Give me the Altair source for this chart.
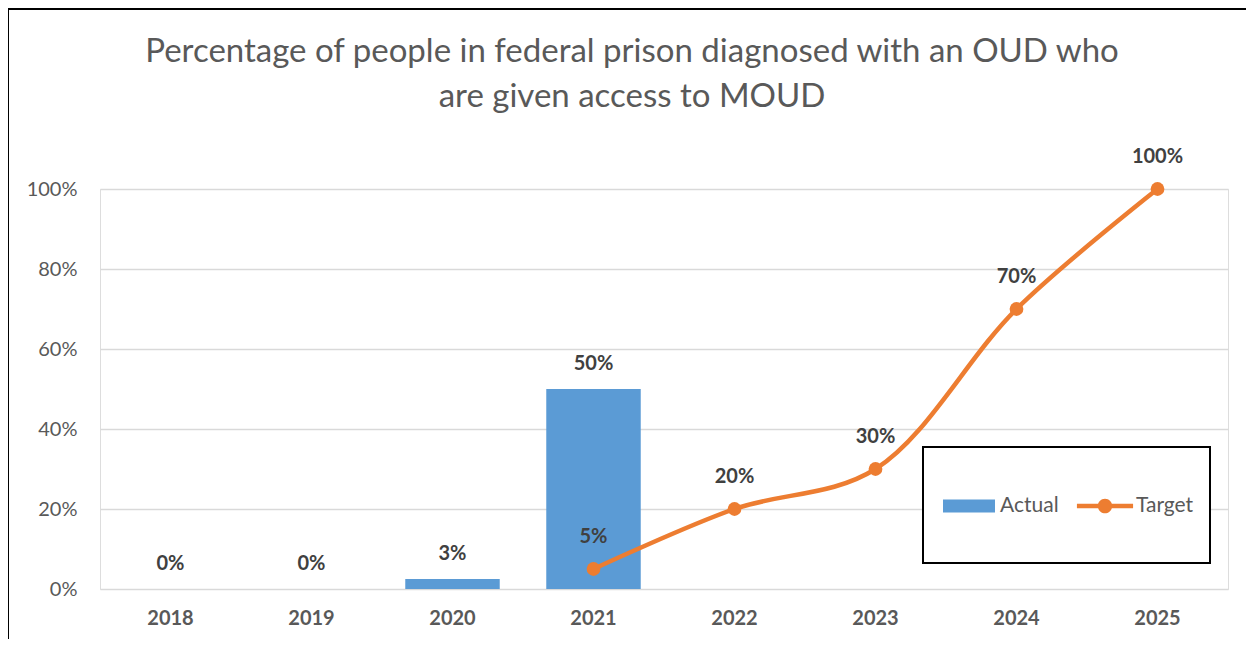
import altair as alt
import pandas as pd

# ---------------- data ----------------
years = ["2018", "2019", "2020", "2021", "2022", "2023", "2024", "2025"]
actual_years = ["2018", "2019", "2020", "2021"]
actual_values = [0.0, 0.0, 0.025, 0.50]
target_years = ["2021", "2022", "2023", "2024", "2025"]
target_values = [0.05, 0.20, 0.30, 0.70, 1.00]
y_ticks = [0, 0.2, 0.4, 0.6, 0.8, 1.0]
series_names = ["Actual", "Target"]
title_lines = [
    "Percentage of people in federal prison diagnosed with an OUD who",
    "are given access to MOUD",
]

# ---------------- style ----------------
BLUE = "#5B9BD5"
ORANGE = "#ED7D31"
GRAY = "#595959"
DARK = "#404040"
FONT = "Lato"

actual_df = pd.DataFrame({"year": actual_years, "value": actual_values})
target_df = pd.DataFrame({"year": target_years, "value": target_values})
legend_df = pd.DataFrame({"series": series_names})
one = pd.DataFrame({"k": [0]})

x = alt.X(
    "year:N",
    sort=years,
    scale=alt.Scale(domain=years, paddingInner=0.33, paddingOuter=0.165),
    axis=alt.Axis(
        title=None, labelAngle=0, labelFont=FONT, labelFontSize=20,
        labelFontWeight="bold", labelColor=GRAY, labelPadding=19,
        domain=False, ticks=False, grid=False,
    ),
)
y = alt.Y(
    "value:Q",
    scale=alt.Scale(domain=[0, 1], nice=False, zero=True),
    axis=alt.Axis(
        title=None, format=".0%", values=y_ticks, labelFont=FONT,
        labelFontSize=20, labelColor=GRAY, labelPadding=23,
        domain=False, ticks=False, gridColor="#D9D9D9", gridWidth=1.3,
    ),
)

bars = alt.Chart(actual_df).mark_bar(color=BLUE).encode(x=x, y=y)
bar_labels = alt.Chart(actual_df).mark_text(
    dy=-25, baseline="middle", font=FONT, fontSize=20, fontWeight="bold", color=DARK
).encode(x=x, y=y, text=alt.Text("value:Q", format=".0%"))

line = alt.Chart(target_df).mark_line(
    color=ORANGE, strokeWidth=4.5, interpolate="catmull-rom"
).encode(x=x, y=y)
dots = alt.Chart(target_df).mark_point(
    filled=True, color=ORANGE, size=190, opacity=1
).encode(x=x, y=y)
line_labels = alt.Chart(target_df).mark_text(
    dy=-32, baseline="middle", font=FONT, fontSize=20, fontWeight="bold", color=DARK
).encode(x=x, y=y, text=alt.Text("value:Q", format=".0%"))

# legend box (decoration)
legend_box = alt.Chart(one).mark_rect(
    fill="white", stroke="black", strokeWidth=2
).encode(x=alt.value(823), x2=alt.value(1110), y=alt.value(258), y2=alt.value(374))

rect_path = "M-1,-0.25H1V0.25H-1Z"
line_path = ("M-1.08,-0.085H1.08V0.085H-1.08Z "
             "M0.28,0 A0.28,0.28 0 1,1 -0.28,0 A0.28,0.28 0 1,1 0.28,0 Z")
legend_def = alt.Legend(
    title=None, orient="none", legendX=843, legendY=291, direction="horizontal",
    labelFont=FONT, labelFontSize=21, labelColor=GRAY, symbolSize=2704,
    labelOffset=5, columnPadding=17, symbolStrokeWidth=0,
)
legend_layer = alt.Chart(legend_df).mark_point(
    filled=True, opacity=1, size=2704
).encode(
    color=alt.Color("series:N", scale=alt.Scale(domain=series_names, range=[BLUE, ORANGE]),
                    legend=legend_def),
    shape=alt.Shape("series:N", scale=alt.Scale(domain=series_names, range=[rect_path, line_path]),
                    legend=legend_def),
).transform_filter("false")

# outer border (decoration)
border = alt.Chart(one).mark_rect(
    filled=False, stroke="black", strokeWidth=2
).encode(x=alt.value(-92), x2=alt.value(1170), y=alt.value(-180), y2=alt.value(500))

# title as text
t1 = alt.Chart(one).mark_text(
    font=FONT, fontSize=33, color=GRAY, align="center", baseline="alphabetic", text=title_lines[0]
).encode(x=alt.value(532), y=alt.value(-127))
t2 = alt.Chart(one).mark_text(
    font=FONT, fontSize=33, color=GRAY, align="center", baseline="alphabetic", text=title_lines[1]
).encode(x=alt.value(532), y=alt.value(-82))

chart = alt.layer(
    bars, bar_labels, line, dots, line_labels, legend_box, legend_layer, border, t1, t2
).properties(
    width=1128, height=400,
    autosize=alt.AutoSizeParams(type="none"),
    padding={"left": 92, "top": 181, "right": 18, "bottom": 50},
).configure_view(stroke=None).configure(background="white")

chart.save("out.html", embed_options={"renderer": "svg", "actions": False})
